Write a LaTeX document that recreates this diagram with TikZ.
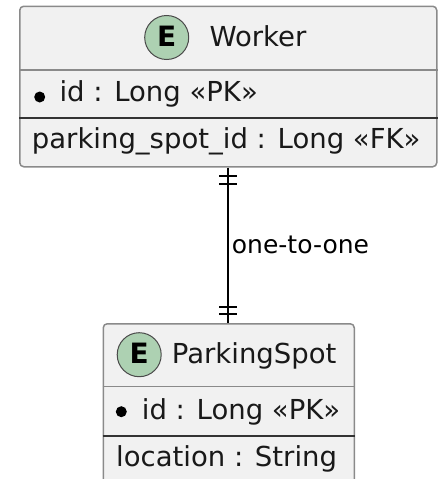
\documentclass[tikz,border=0pt]{standalone}
\usepackage{fontspec}
\setmainfont{DejaVu Sans}
\usetikzlibrary{calc}
\definecolor{boxfill}{HTML}{F1F1F1}
\definecolor{boxline}{HTML}{8A8A8A}
\definecolor{rowline}{HTML}{333333}
\definecolor{badgefill}{HTML}{ADD1B2}
\definecolor{badgeline}{HTML}{4A4A4A}

\begin{document}
\begin{tikzpicture}[x=1pt,y=-1pt,
  entity/.style={rectangle, draw=boxline, fill=boxfill, line width=1.5pt,
    rounded corners=4pt, inner sep=0pt, anchor=north west},
  headsep/.style={draw=boxline, line width=1.5pt},
  rowsep/.style={draw=rowline, line width=2pt},
  badge/.style={circle, draw=badgeline, fill=badgefill, line width=1pt,
    minimum size=44pt, inner sep=0pt},
  badgeletter/.style={inner sep=0pt, font=\fontsize{28}{28}\bfseries\selectfont},
  entitytext/.style={anchor=base west, inner sep=0pt,
    font=\fontsize{27.5}{30}\selectfont, text=black!90},
  pkdot/.style={circle, fill=black, inner sep=0pt, minimum size=11pt},
  relline/.style={line width=2pt, black},
  reltext/.style={anchor=base west, inner sep=0pt,
    font=\fontsize{25}{28}\selectfont}]

  \clip (0,0) rectangle (439,479);

  % Worker entity
  \node[entity, minimum width=417pt, minimum height=160.5pt] (worker) at (19,5.5) {};
  \draw[headsep] ($(worker.north west)+(0,64.5)$) -- ($(worker.north east)+(0,64.5)$);
  \draw[rowsep]  ($(worker.north west)+(0,112.8)$) -- ($(worker.north east)+(0,112.8)$);
  \node[badge] (wbadge) at (166.7,37.5) {};
  \node[badgeletter] (wletter) at (166.7,36) {E};
  \node[entitytext] (wtitle) at (209.3,46.7) {Worker};
  \node[pkdot] (wdot) at (39.7,97) {};
  \node[entitytext] (wid) at (59.3,101.7) {id : Long «PK»};
  \node[entitytext] (wfk) at (31.7,148.3) {parking\_spot\_id : Long «FK»};

  % ParkingSpot entity
  \node[entity, minimum width=251pt, minimum height=180pt] (spot) at (102.5,323) {};
  \draw[headsep] ($(spot.north west)+(0,63.7)$) -- ($(spot.north east)+(0,63.7)$);
  \draw[rowsep]  ($(spot.north west)+(0,112.7)$) -- ($(spot.north east)+(0,112.7)$);
  \node[badge] (sbadge) at (139.2,354.7) {};
  \node[badgeletter] (sletter) at (139.2,353.2) {E};
  \node[entitytext] (stitle) at (171.7,363.3) {ParkingSpot};
  \node[pkdot] (sdot) at (121.3,411.7) {};
  \node[entitytext] (sid) at (141.7,419) {id : Long «PK»};
  \node[entitytext] (sloc) at (116,466.7) {location : String};

  % one-to-one relation with bar marks at both ends
  \coordinate (spottop) at (worker.south |- spot.north);
  \draw[relline] (worker.south) -- (spottop);
  \draw[relline] ($(worker.south)+(-9,8.5)$) -- ++(18,0);
  \draw[relline] ($(worker.south)+(-9,16)$) -- ++(18,0);
  \draw[relline] ($(spottop)+(-9,-16)$) -- ++(18,0);
  \draw[relline] ($(spottop)+(-9,-9.4)$) -- ++(18,0);
  \node[reltext] (rel) at (231.7,253.3) {one-to-one};
\end{tikzpicture}
\end{document}
